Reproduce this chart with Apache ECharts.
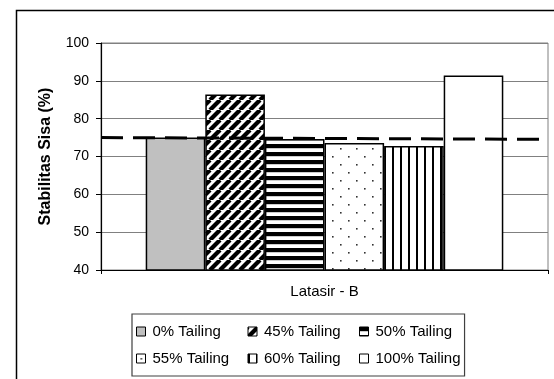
<!DOCTYPE html>
<html>
<head>
<meta charset="utf-8">
<script src="https://cdn.jsdelivr.net/npm/echarts@6/dist/echarts.min.js"></script>
<style>
html,body{margin:0;padding:0;background:#fff;}
#chart{width:554px;height:379px;}
</style>
</head>
<body>
<div id="chart"></div>
<script>
// ---- data ----
const categories = ['Latasir - B'];
const seriesNames = ['0% Tailing', '45% Tailing', '50% Tailing', '55% Tailing', '60% Tailing', '100% Tailing'];
const seriesValues = [75.0, 86.4, 74.6, 73.6, 72.8, 91.4];
const refLineX = [0, 0.986];
const refLineY = [75.0, 74.55];
const yMin = 40, yMax = 100, yStep = 10;
const yAxisTitle = 'Stabilitas Sisa (%)';

// ---- patterns ----
function makeCanvas(w, h) {
  const c = document.createElement('canvas');
  c.width = w; c.height = h;
  return c;
}
function solid(color) { return color; }
function diagPattern() {
  const s = 10, c = makeCanvas(s, s), g = c.getContext('2d');
  g.fillStyle = '#fff'; g.fillRect(0, 0, s, s);
  g.strokeStyle = '#000'; g.lineWidth = 4.2;
  for (let k = -1; k <= 1; k++) {
    g.beginPath(); g.moveTo(k * s, s); g.lineTo(k * s + s, 0); g.stroke();
  }
  return { image: c, repeat: 'repeat' };
}
function hStripes() {
  const c = makeCanvas(4, 8), g = c.getContext('2d');
  g.fillStyle = '#fff'; g.fillRect(0, 0, 4, 8);
  g.fillStyle = '#000'; g.fillRect(0, 0, 4, 4.2);
  return { image: c, repeat: 'repeat' };
}
function vStripes() {
  const c = makeCanvas(8, 4), g = c.getContext('2d');
  g.fillStyle = '#fff'; g.fillRect(0, 0, 8, 4);
  g.fillStyle = '#000'; g.fillRect(0, 0, 2, 4);
  return { image: c, repeat: 'repeat' };
}
function dots() {
  const c = makeCanvas(16, 16), g = c.getContext('2d');
  g.fillStyle = '#fff'; g.fillRect(0, 0, 16, 16);
  g.fillStyle = '#333';
  g.fillRect(4, 4, 1.6, 1.6);
  g.fillRect(12, 12, 1.6, 1.6);
  return { image: c, repeat: 'repeat' };
}
const fills = [solid('#c0c0c0'), diagPattern(), hStripes(), dots(), vStripes(), solid('#ffffff')];

const FONT = 'Liberation Sans, Arial, sans-serif';

const barSeries = seriesNames.map((name, i) => ({
  name: name,
  type: 'bar',
  xAxisIndex: 0,
  yAxisIndex: 0,
  barGap: '0%',
  barCategoryGap: '20%',
  data: [seriesValues[i]],
  itemStyle: { color: fills[i], borderColor: '#000', borderWidth: 1.5 },
  emphasis: { disabled: true },
  z: 3
}));

const refSeries = {
  name: 'ref',
  type: 'line',
  xAxisIndex: 1,
  yAxisIndex: 0,
  data: refLineX.map((x, i) => [x, refLineY[i]]),
  symbol: 'none',
  lineStyle: { color: '#000', width: 3, type: [22, 10] },
  z: 5,
  silent: true
};

const chart = echarts.init(document.getElementById('chart'), null, { renderer: 'canvas' });
chart.setOption({
  animation: false,
  backgroundColor: '#fff',
  textStyle: { fontFamily: FONT },
  graphic: [{
    type: 'rect', left: 14, top: 8,
    shape: { width: 620, height: 420 },
    style: { fill: 'none', stroke: '#000', lineWidth: 1.5 },
    silent: true, z: 0
  }],
  grid: {
    left: 101, right: 6, top: 43, bottom: 109,
    show: true, borderColor: '#808080', borderWidth: 1, backgroundColor: 'transparent'
  },
  legend: {
    data: seriesNames,
    left: 132, top: 314,
    width: 380,
    padding: [10, 4, 10, 4],
    itemWidth: 9, itemHeight: 9, itemGap: 12,
    borderColor: '#404040', borderWidth: 1.2,
    icon: 'rect',
    itemStyle: { borderColor: '#000', borderWidth: 1 },
    textStyle: {
      fontFamily: FONT, fontSize: 15, color: '#000',
      rich: { t: { width: 83, fontSize: 15, lineHeight: 18, fontFamily: FONT, padding: [0, 0, 0, 2] } }
    },
    formatter: '{t|{name}}',
    selectedMode: false
  },
  xAxis: [{
    type: 'category',
    data: categories,
    axisLine: { lineStyle: { color: '#000', width: 1.2 } },
    axisTick: { show: true, length: 4, lineStyle: { color: '#000' } },
    axisLabel: { color: '#000', fontSize: 15, margin: 14, fontFamily: FONT },
    splitLine: { show: false }
  }, {
    type: 'value', min: 0, max: 1, show: false
  }],
  yAxis: [{
    type: 'value',
    min: yMin, max: yMax, interval: yStep,
    name: yAxisTitle,
    nameLocation: 'middle',
    nameGap: 47,
    nameTextStyle: { fontWeight: 'bold', fontSize: 16, color: '#000', fontFamily: FONT },
    axisLine: { show: true, lineStyle: { color: '#000', width: 1.2 } },
    axisTick: { show: true, length: 5, lineStyle: { color: '#000' } },
    axisLabel: { color: '#000', fontSize: 14, margin: 12, fontFamily: FONT },
    splitLine: { show: true, lineStyle: { color: '#808080', width: 1 } }
  }],
  series: barSeries.concat([refSeries])
});
</script>
</body>
</html>
